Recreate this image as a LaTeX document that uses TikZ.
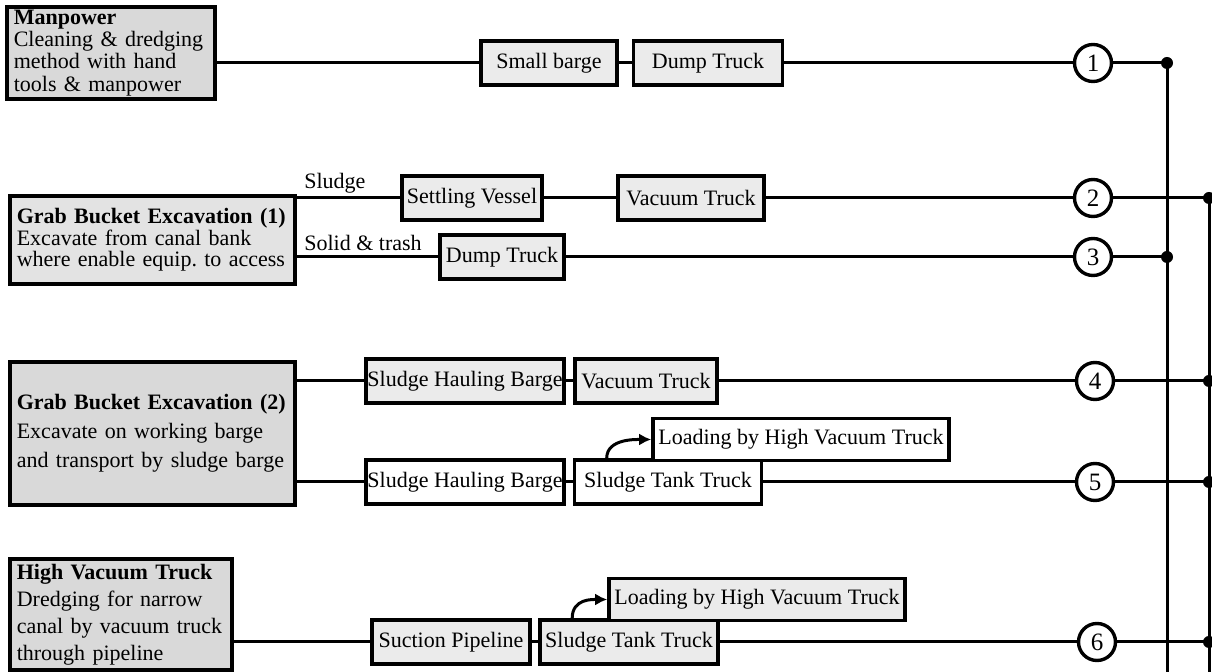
\documentclass[tikz,border=0pt]{standalone}
\usepackage{fontspec}
\setmainfont{Liberation Serif}
\usetikzlibrary{arrows.meta}
\begin{document}
\frenchspacing
\begin{tikzpicture}[x=0.5pt,y=-0.5pt,
  font=\fontsize{11}{13}\selectfont,
  flow/.style={line width=1.5pt},
  srcbox/.style={draw,line width=1.8pt,fill=gray!30,anchor=north west,align=left,inner xsep=3.5pt,inner ysep=1pt},
  stepbox/.style={draw,line width=1.8pt,fill=gray!16,minimum height=22pt,inner sep=0pt},
  plainbox/.style={stepbox,fill=white},
  num/.style={circle,draw,line width=1.7pt,fill=white,minimum size=18.5pt,inner sep=0pt,font=\fontsize{12.5}{14}\selectfont},
  jdot/.style={circle,fill,inner sep=0pt,minimum size=6pt},
  lbl/.style={anchor=base west,inner sep=1pt}]
\fill[white] (0,0) rectangle (1212,672);
\useasboundingbox (0,0) rectangle (1212,672);

\node[srcbox,text width=97pt,minimum height=46pt,font=\fontsize{11}{11.2}\selectfont] (manp) at (5,5)
  {\textbf{Manpower}\\Cleaning \& dredging\\method with hand\\tools \& manpower};
\node[srcbox,fill=gray!22,text width=135.5pt,minimum height=44pt,font=\fontsize{11}{10.8}\selectfont] (grab1) at (8,194)
  {\textbf{Grab Bucket Excavation (1)}\\Excavate from canal bank\\where enable equip. to access};
\node[srcbox,text width=135.5pt,minimum height=71.5pt,font=\fontsize{11}{14.3}\selectfont] (grab2) at (8,360)
  {\textbf{Grab Bucket Excavation (2)}\\Excavate on working barge\\and transport by sludge barge};
\node[srcbox,text width=104pt,minimum height=55.5pt,font=\fontsize{11}{13.5}\selectfont] (hvt) at (8,557)
  {\textbf{High Vacuum Truck}\\Dredging for narrow\\canal by vacuum truck\\through pipeline};

\node[stepbox,minimum width=68pt] (sbarge) at (549,63) {Small barge};
\node[stepbox,minimum width=74.5pt] (dtruck1) at (708,63) {Dump Truck};
\node[stepbox,minimum width=70pt] (settl) at (472,198) {Settling Vessel};
\node[stepbox,minimum width=73pt] (vtruck2) at (691,198) {Vacuum Truck};
\node[stepbox,minimum width=62pt] (dtruck3) at (502,257) {Dump Truck};
\node[stepbox,minimum width=99pt] (shb4) at (465,381) {Sludge Hauling Barge};
\node[stepbox,minimum width=71pt] (vtruck4) at (646,381) {Vacuum Truck};
\node[plainbox,minimum width=99pt] (shb5) at (465,482) {Sludge Hauling Barge};
\node[plainbox,minimum width=93.5pt] (stt5) at (668,482) {Sludge Tank Truck};
\node[plainbox,minimum width=148pt,minimum height=21pt] (load5) at (801,439.5) {Loading by High Vacuum Truck};
\node[stepbox,minimum width=79pt] (sucp) at (451,642) {Suction Pipeline};
\node[stepbox,minimum width=89pt] (stt6) at (629,642) {Sludge Tank Truck};
\node[stepbox,minimum width=148pt,minimum height=21pt] (load6) at (757,599.5) {Loading by High Vacuum Truck};

\node[lbl] (lsludge) at (302,189) {Sludge};
\node[lbl] (lsolid) at (302,251) {Solid \& trash};

\foreach \i/\x/\y in {1/1093/63,2/1093/198,3/1093/257,4/1095/381,5/1095/482,6/1097/642}
  \node[num] (n\i) at (\x,\y) {\i};

\coordinate (j1) at (1167,63);
\coordinate (j3) at (1167,257);
\coordinate (jbot) at (1167,672);
\coordinate (r2) at (1209,198);
\coordinate (r4) at (1209,381);
\coordinate (r5) at (1209,482);
\coordinate (r6) at (1209,642);
\coordinate (rbot) at (1209,672);

\draw[flow] (manp.east |- sbarge.west) -- (sbarge.west);
\draw[flow] (sbarge.east) -- (dtruck1.west);
\draw[flow] (dtruck1.east) -- (n1.west);
\draw[flow] (n1.east) -- (j1);

\draw[flow] (grab1.east |- settl.west) -- (settl.west);
\draw[flow] (settl.east) -- (vtruck2.west);
\draw[flow] (vtruck2.east) -- (n2.west);
\draw[flow] (n2.east) -- (r2);

\draw[flow] (grab1.east |- dtruck3.west) -- (dtruck3.west);
\draw[flow] (dtruck3.east) -- (n3.west);
\draw[flow] (n3.east) -- (j3);

\draw[flow] (grab2.east |- shb4.west) -- (shb4.west);
\draw[flow] (shb4.east) -- (vtruck4.west);
\draw[flow] (vtruck4.east) -- (n4.west);
\draw[flow] (n4.east) -- (r4);

\draw[flow] (grab2.east |- shb5.west) -- (shb5.west);
\draw[flow] (shb5.east) -- (stt5.west);
\draw[flow] (stt5.east) -- (n5.west);
\draw[flow] (n5.east) -- (r5);

\draw[flow] (hvt.east |- sucp.west) -- (sucp.west);
\draw[flow] (sucp.east) -- (stt6.west);
\draw[flow] (stt6.east) -- (n6.west);
\draw[flow] (n6.east) -- (r6);

\draw[flow] (j1) -- (jbot);
\draw[flow] (r2) -- (rbot);

\draw[flow,-{Latex[length=6pt,width=6pt]}] ([xshift=17pt]stt5.north west) .. controls +(0,-20) and +(-14,0) .. (load5.west);
\draw[flow,-{Latex[length=6pt,width=6pt]}] ([xshift=17pt]stt6.north west) .. controls +(0,-20) and +(-14,0) .. (load6.west);

\foreach \p in {j1,j3,r2,r4,r5,r6}
  \node[jdot] at (\p) {};
\end{tikzpicture}
\end{document}
